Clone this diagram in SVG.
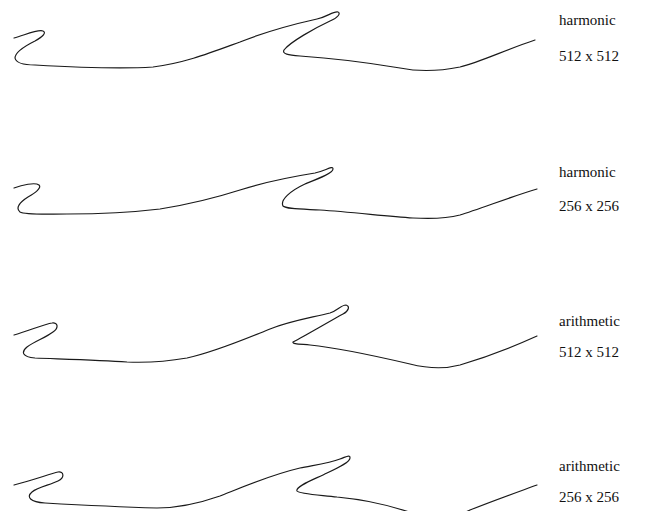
<svg xmlns="http://www.w3.org/2000/svg" width="646" height="511" viewBox="0 0 646 511">
<style>
.c{fill:none;stroke:#1a1a1a;stroke-width:1.2;stroke-linejoin:round;stroke-linecap:round}
.t{font-family:"Liberation Serif","Times New Roman",serif;font-size:15px;fill:#111}
</style>
<rect width="646" height="511" fill="#fff"/>
<g id="row1">
<path class="c" d="M14,38 C25,35 38,29 43,31 C47,33 42,37 35,41 C25,46 15,52 15,58 C16,63 22,65 35,65 C70,67 120,69 153,67 C185,63 210,53 240,42 C265,32 290,25 317,19 C327,17 333,11 338,12 C341,13 338,18 330,21 C315,28 290,42 284,50 C282,54 288,55 300,56 C330,58 370,63 400,68 C420,72 440,71 460,67 C480,62 505,50 535,40"/>
<text class="t" x="559" y="25">harmonic</text>
<text class="t" x="559" y="61">512 x 512</text>
</g>
<g id="row2">
<path class="c" d="M14,188 C22,185 35,182 39,185 C42,188 35,193 28,197 C20,202 15,208 20,212 C25,215 45,214 67,214 C100,214 135,212 160,209 C185,205 215,198 240,190 C265,182 290,177 315,173 C325,171 333,165 333,169 C333,173 320,178 305,184 C290,191 280,200 283,206 C286,209 300,209 320,210 C350,212 385,216 413,218 C430,219 445,219 460,215 C480,209 510,197 537,189"/>
<text class="t" x="559" y="177">harmonic</text>
<text class="t" x="559" y="211">256 x 256</text>
</g>
<g id="row3">
<path class="c" d="M14,335 C28,331 45,324 52,323 C58,322 59,328 53,332 C45,338 35,341 27,347 C21,352 22,357 35,358 C60,359 100,360 127,362 C150,363 170,361 187,358 C215,352 245,339 270,329 C290,321 310,318 330,313 C337,311 341,305 346,305 C350,306 349,311 343,314 C330,321 305,336 293,342 C292,344 300,344 310,345 C340,348 380,357 410,364 C430,369 445,369 460,365 C490,356 515,346 537,336"/>
<text class="t" x="559" y="326">arithmetic</text>
<text class="t" x="559" y="357">512 x 512</text>
</g>
<g id="row4">
<path class="c" d="M14,485 C30,481 50,474 58,472 C64,471 65,478 58,481 C50,485 38,487 32,492 C26,497 30,502 45,503 C80,505 120,507 157,508 C180,508 200,503 220,496 C245,486 270,475 300,468 C315,465 330,463 340,459 C346,457 350,454 350,458 C350,462 340,467 327,473 C315,479 295,486 297,491 C299,494 320,495 337,497 C370,500 395,507 415,514 C440,522 460,515 470,510 C495,500 515,493 537,485"/>
<text class="t" x="559" y="471">arithmetic</text>
<text class="t" x="559" y="502">256 x 256</text>
</g>
</svg>
